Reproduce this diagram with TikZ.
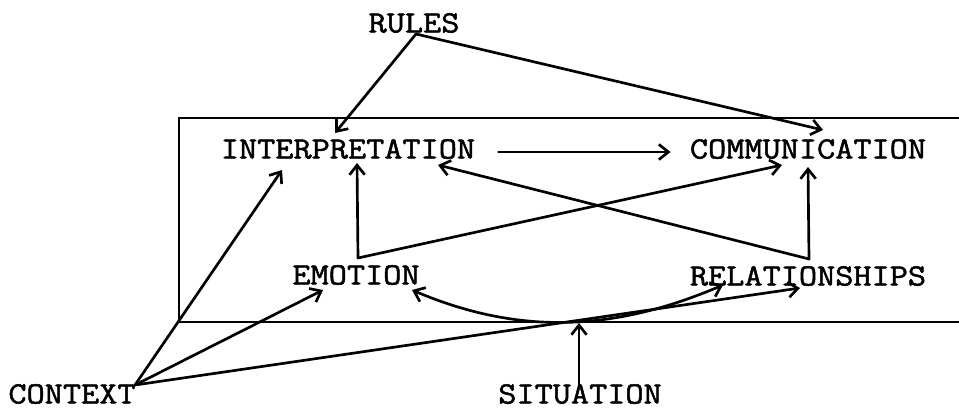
\documentclass[tikz,border=0pt]{standalone}
\usepackage{fontspec}
\newfontfamily\typefont{Latin Modern Mono}[FakeStretch=1.14, FakeBold=1.6]
\usetikzlibrary{arrows.meta, calc}
\tikzset{
  every picture/.style={line width=1.9pt, line cap=round},
  word/.style={font=\typefont\fontsize{22}{24}\selectfont, inner sep=0pt},
  arrow/.style={-{Straight Barb[length=2.4mm, width=3.8mm]}},
  twoway/.style={{Straight Barb[length=2.4mm, width=3.8mm]}-{Straight Barb[length=2.4mm, width=3.8mm]}},
}

\begin{document}
\begin{tikzpicture}[x=0.025cm, y=-0.025cm]
  \useasboundingbox (0,0) rectangle (959,409);
  % frame, open on the right
  \draw (959,118) -- (179,118) -- (179,322) -- (959,322);
  % words
  \node[word] (rules) at (414,23) {RULES};
  \node[word] (interp) at (348,149) {INTERPRETATION};
  \node[word] (comm) at (808,149) {COMMUNICATION};
  \node[word] (emo) at (356,275) {EMOTION};
  \node[word] (rel) at (808,276) {RELATIONSHIPS};
  \node[word] (context) at (72,394) {CONTEXT};
  \node[word] (situation) at (580,394) {SITUATION};
  % forks
  \coordinate (rj) at ($(rules)+(2,11)$);
  \coordinate (ej) at ($(emo)+(2,-17)$);
  \coordinate (lj) at ($(rel)+(1,-17)$);
  \coordinate (cj) at ($(context)+(63,-9)$);
  \coordinate (sj) at (579,323);
  % rules
  \draw[arrow] (rj) -- ($(interp)+(-13,-16)$);
  \draw[arrow] (rj) -- ($(comm)+(15,-19)$);
  \draw[arrow] ($(interp.east)+(22,3)$) -- ($(comm.west)+(-18,3)$);
  % emotion, relationships
  \draw[arrow] (ej) -- ($(interp)+(9,14)$);
  \draw[arrow] (ej) -- ($(comm)+(-26,16)$);
  \draw[arrow] (lj) -- ($(comm)+(0,18)$);
  \draw[arrow] (lj) -- ($(interp)+(90,16)$);
  % context
  \draw[arrow] (cj) -- ($(interp)+(-66,21)$);
  \draw[arrow] (cj) -- ($(emo)+(-33,15)$);
  \draw[arrow] (cj) -- ($(rel)+(-8,12)$);
  % situation
  \draw[arrow] ($(situation)+(-1,-9)$) -- (sj);
  \draw[twoway] ($(emo)+(56,15)$) .. controls (520,336) and (615,331) .. ($(rel)+(-85,9)$);
\end{tikzpicture}
\end{document}
